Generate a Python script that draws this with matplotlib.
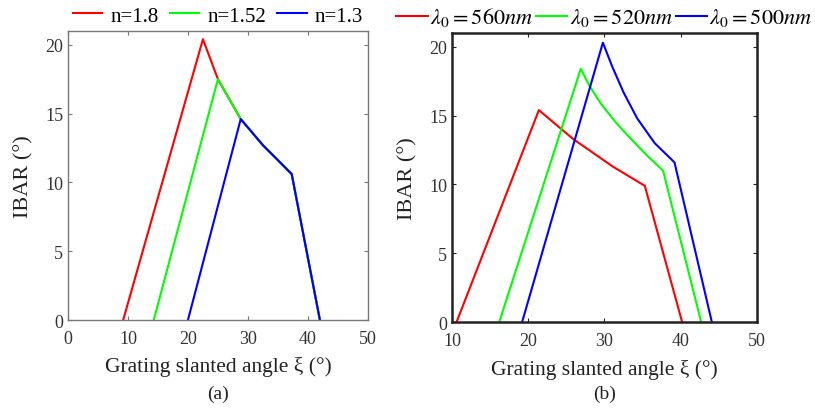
import matplotlib.pyplot as plt

plt.rcParams['font.family'] = 'Liberation Serif'
plt.rcParams['mathtext.fontset'] = 'stix'

# panel (a): IBAR vs slant angle for different refractive indices
a_labels = ['n=1.8', 'n=1.52', 'n=1.3']
a_x = [
    [9.2, 22.5, 25.0, 28.8, 32.5, 34.8, 37.3, 42.0],
    [14.3, 25.0, 28.8, 32.5, 34.8, 37.3, 42.0],
    [20.0, 28.8, 32.5, 34.8, 37.3, 42.0],
]
a_y = [
    [0, 20.4, 17.5, 14.6, 12.7, 11.7, 10.6, 0],
    [0, 17.5, 14.6, 12.7, 11.7, 10.6, 0],
    [0, 14.6, 12.7, 11.7, 10.6, 0],
]

# panel (b): different design wavelengths
b_labels = [r'$\lambda_0 = 560nm$', r'$\lambda_0 = 520nm$', r'$\lambda_0 = 500nm$']
b_x = [
    [10.6, 21.4, 25.9, 31.1, 35.3, 40.2],
    [16.2, 26.9, 28.0, 29.5, 31.5, 33.5, 35.6, 37.7, 42.7],
    [19.2, 29.8, 31.0, 32.5, 34.3, 36.6, 39.2, 44.1],
]
b_y = [
    [0, 15.4, 13.3, 11.3, 9.9, 0],
    [0, 18.4, 17.2, 15.9, 14.5, 13.3, 12.1, 11.0, 0],
    [0, 20.3, 18.6, 16.7, 14.8, 13.0, 11.6, 0],
]

colors = ['#ff0000', '#00ff00', '#0000ff']

fig = plt.figure(figsize=(8.15, 4.1), dpi=100)
ax1 = fig.add_axes([0.0834, 0.217, 0.368, 0.705])
ax2 = fig.add_axes([0.5546, 0.212, 0.374, 0.705])

for xs, ys, lab, c in zip(a_x, a_y, a_labels, colors):
    ax1.plot(xs, ys, color=c, lw=1.5, label=lab)
for xs, ys, lab, c in zip(b_x, b_y, b_labels, colors):
    ax2.plot(xs, ys, color=c, lw=1.5, label=lab)

ax1.set_xlim(0, 50)
ax1.set_ylim(0, 21)
ax2.set_xlim(10, 50)
ax2.set_ylim(0, 21)

for ax, spc, lw in [(ax1, '#777777', 1.0), (ax2, '#222222', 1.8)]:
    ax.set_yticks([0, 5, 10, 15, 20])
    ax.tick_params(direction='in', top=True, right=True, labelsize=13,
                   labelcolor='#333333', color=spc, length=3)
    ax.tick_params(axis='x', pad=7)
    for s in ax.spines.values():
        s.set_color(spc)
        s.set_linewidth(lw)
    ax.set_xlabel('Grating slanted angle ξ (°)', fontsize=15.5, color='#222222',
                  labelpad=7)
    ax.set_ylabel('IBAR (°)', fontsize=16, color='#222222', labelpad=8)

ax1.legend(loc='lower center', bbox_to_anchor=(0.5, 0.99), ncol=3,
           frameon=False, fontsize=15, handlelength=1.4, handletextpad=0.4,
           columnspacing=0.55, borderaxespad=0.0)
ax2.legend(loc='lower center', bbox_to_anchor=(0.5, 0.985), ncol=3,
           frameon=False, fontsize=16, handlelength=1.4, handletextpad=0.1,
           columnspacing=0.15, borderaxespad=0.0)

fig.text(0.268, 0.037, '(a)', ha='center', va='center', fontsize=14,
         color='#222222')
fig.text(0.742, 0.037, '(b)', ha='center', va='center', fontsize=14,
         color='#222222')

fig.savefig('out.png', dpi=100)
